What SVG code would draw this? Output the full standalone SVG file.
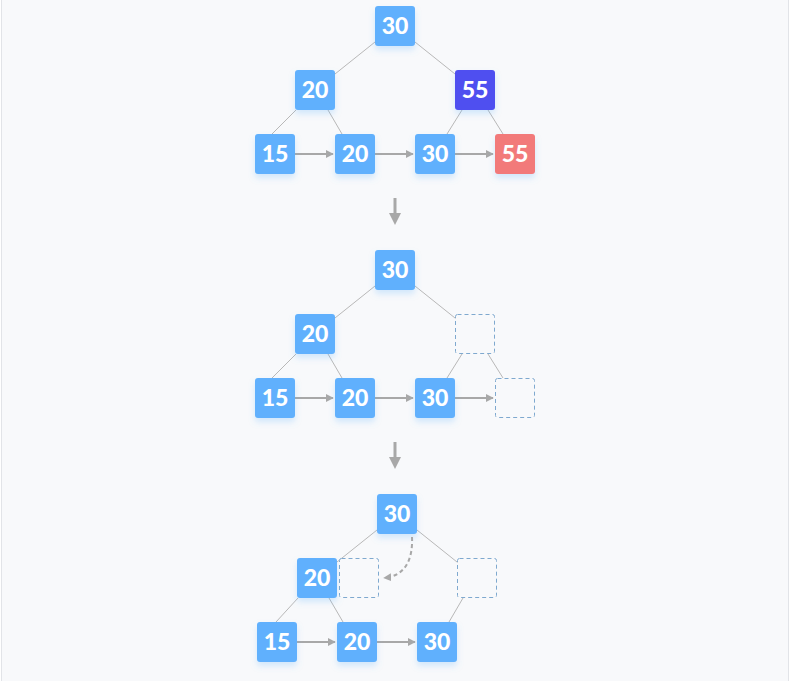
<svg xmlns="http://www.w3.org/2000/svg" width="791" height="681" viewBox="0 0 791 681">
<defs>
<filter id="sh" x="-30%" y="-30%" width="160%" height="180%">
<feDropShadow dx="0" dy="4" stdDeviation="3" flood-color="#5fb0fb" flood-opacity="0.25"/>
</filter>
<marker id="ah" viewBox="0 0 10 10" refX="9" refY="5" markerWidth="4" markerHeight="4" orient="auto">
<path d="M0,0 L10,5 L0,10 z" fill="#a8a8a8"/>
</marker>
<marker id="ah2" viewBox="0 0 10 10" refX="9" refY="5" markerWidth="4" markerHeight="4" orient="auto">
<path d="M0,0 L10,5 L0,10 z" fill="#a8a8a8"/>
</marker>
</defs>
<style>
.n{fill:#61b0fd;filter:url(#sh)}
.d{fill:#4f4ff0;filter:url(#sh)}
.r{fill:#f27a7a;filter:url(#sh)}
.e{fill:#f8f9fb;stroke:#7fa9cf;stroke-width:1;stroke-dasharray:4 3}
.t{font-family:Lato,"Liberation Sans",sans-serif;font-weight:900;font-size:23px;fill:#fff;text-anchor:middle}
.l{stroke:#b8b8b8;stroke-width:1;fill:none}
.a{stroke:#a8a8a8;stroke-width:2;fill:none;marker-end:url(#ah)}
.c{stroke:#a8a8a8;stroke-width:2;fill:none;stroke-dasharray:4 3;marker-end:url(#ah2)}
.dn{stroke:#a8a8a8;stroke-width:3;fill:none}
</style>
<rect x="1.5" y="-1" width="787" height="684" fill="#f8f9fb" stroke="#e2e4e8" stroke-width="1"/>
<g id="connectors">
<line class="l" x1="395" y1="26" x2="315" y2="90"/>
<line class="l" x1="395" y1="26" x2="475" y2="90"/>
<line class="l" x1="296" y1="110" x2="272" y2="134"/>
<line class="l" x1="328" y1="110" x2="342" y2="134"/>
<line class="l" x1="462" y1="110" x2="447" y2="134"/>
<line class="l" x1="488" y1="110" x2="503" y2="134"/>
<line class="a" x1="295" y1="154" x2="333" y2="154"/>
<line class="a" x1="375" y1="154" x2="413" y2="154"/>
<line class="a" x1="455" y1="154" x2="493" y2="154"/>
<line class="dn" x1="395" y1="198" x2="395" y2="214"/>
<path d="M389,213 L401,213 L395,225 z" fill="#a8a8a8"/>
<line class="l" x1="395" y1="270" x2="315" y2="334"/>
<line class="l" x1="395" y1="270" x2="475" y2="334"/>
<line class="l" x1="296" y1="354" x2="272" y2="378"/>
<line class="l" x1="328" y1="354" x2="342" y2="378"/>
<line class="l" x1="462" y1="354" x2="447" y2="378"/>
<line class="l" x1="488" y1="354" x2="503" y2="378"/>
<line class="a" x1="295" y1="398" x2="333" y2="398"/>
<line class="a" x1="375" y1="398" x2="413" y2="398"/>
<line class="a" x1="455" y1="398" x2="493" y2="398"/>
<line class="dn" x1="395" y1="442" x2="395" y2="458"/>
<path d="M389,457 L401,457 L395,469 z" fill="#a8a8a8"/>
<line class="l" x1="397" y1="514" x2="317" y2="578"/>
<line class="l" x1="397" y1="514" x2="477" y2="578"/>
<line class="l" x1="298" y1="598" x2="276" y2="622"/>
<line class="l" x1="329" y1="598" x2="343" y2="622"/>
<line class="l" x1="463" y1="598" x2="449" y2="622"/>
<line class="a" x1="297" y1="642" x2="335" y2="642"/>
<line class="a" x1="377" y1="642" x2="415" y2="642"/>
</g>
<g id="s1-30"><rect class="n" x="375" y="6" width="40" height="40" rx="3"/><text class="t" x="395" y="33.5">30</text></g>
<g id="s1-20"><rect class="n" x="295" y="70" width="40" height="40" rx="3"/><text class="t" x="315" y="97.5">20</text></g>
<g id="s1-55"><rect class="d" x="455" y="70" width="40" height="40" rx="3"/><text class="t" x="475" y="97.5">55</text></g>
<g id="s1-15b"><rect class="n" x="255" y="134" width="40" height="40" rx="3"/><text class="t" x="275" y="161.5">15</text></g>
<g id="s1-20b"><rect class="n" x="335" y="134" width="40" height="40" rx="3"/><text class="t" x="355" y="161.5">20</text></g>
<g id="s1-30b"><rect class="n" x="415" y="134" width="40" height="40" rx="3"/><text class="t" x="435" y="161.5">30</text></g>
<g id="s1-55b"><rect class="r" x="495" y="134" width="40" height="40" rx="3"/><text class="t" x="515" y="161.5">55</text></g>
<g id="s2-30"><rect class="n" x="375" y="250" width="40" height="40" rx="3"/><text class="t" x="395" y="277.5">30</text></g>
<g id="s2-20"><rect class="n" x="295" y="314" width="40" height="40" rx="3"/><text class="t" x="315" y="341.5">20</text></g>
<g id="s2-empty"><rect class="e" x="455.5" y="314.5" width="39" height="39" rx="2"/></g>
<g id="s2-15b"><rect class="n" x="255" y="378" width="40" height="40" rx="3"/><text class="t" x="275" y="405.5">15</text></g>
<g id="s2-20b"><rect class="n" x="335" y="378" width="40" height="40" rx="3"/><text class="t" x="355" y="405.5">20</text></g>
<g id="s2-30b"><rect class="n" x="415" y="378" width="40" height="40" rx="3"/><text class="t" x="435" y="405.5">30</text></g>
<g id="s2-emptyb"><rect class="e" x="495.5" y="378.5" width="39" height="39" rx="2"/></g>
<g id="s3-30"><rect class="n" x="377" y="494" width="40" height="40" rx="3"/><text class="t" x="397" y="521.5">30</text></g>
<g id="s3-20"><rect class="n" x="297" y="558" width="40" height="40" rx="3"/><text class="t" x="317" y="585.5">20</text></g>
<g id="s3-empty1"><rect class="e" x="339.5" y="558.5" width="39" height="39" rx="2"/></g>
<g id="s3-empty2"><rect class="e" x="457.5" y="558.5" width="39" height="39" rx="2"/></g>
<g id="s3-15b"><rect class="n" x="257" y="622" width="40" height="40" rx="3"/><text class="t" x="277" y="649.5">15</text></g>
<g id="s3-20b"><rect class="n" x="337" y="622" width="40" height="40" rx="3"/><text class="t" x="357" y="649.5">20</text></g>
<g id="s3-30b"><rect class="n" x="417" y="622" width="40" height="40" rx="3"/><text class="t" x="437" y="649.5">30</text></g>
<g id="move-connector">
<path class="c" d="M412,537 C413,560 405,576 384,578"/>
</g>
</svg>
